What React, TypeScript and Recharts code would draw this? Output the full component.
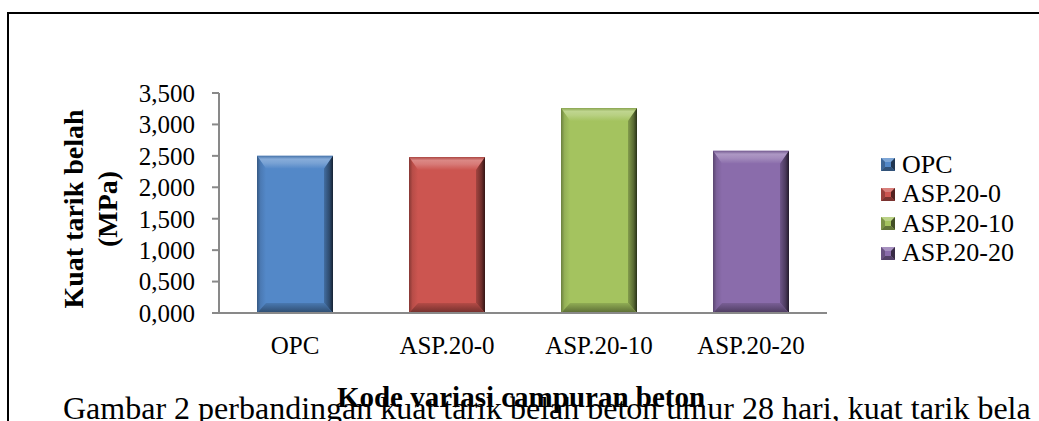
import React from 'react';
import { BarChart, Bar, XAxis, YAxis, Legend, Label } from 'recharts';

const categories = ['OPC', 'ASP.20-0', 'ASP.20-10', 'ASP.20-20'];
const values = [2.5, 2.48, 3.26, 2.58];
const yTicks = [0, 0.5, 1, 1.5, 2, 2.5, 3, 3.5];
const seriesColors = ['#5388C8', '#CC5550', '#A4C35F', '#8A6CAB'];
const yTitle = ['Kuat tarik belah', '(MPa)'];
const xTitle = 'Kode variasi campuran beton';
const caption = 'Gambar 2 perbandingan kuat tarik belah beton umur 28 hari, kuat tarik bela';

const data = categories.map((name, i) => ({ name, value: values[i] }));

const FONT = 'Liberation Serif, serif';

function hexToRgb(h: string) {
  const n = parseInt(h.slice(1), 16);
  return [(n >> 16) & 255, (n >> 8) & 255, n & 255];
}
function mix(h: string, target: string, t: number) {
  const a = hexToRgb(h);
  const b = hexToRgb(target);
  const c = a.map((v, i) => Math.round(v + (b[i] - v) * t));
  return `rgb(${c[0]},${c[1]},${c[2]})`;
}
const lighten = (h: string, t: number) => mix(h, '#ffffff', t);
const darken = (h: string, t: number) => mix(h, '#000000', t);

const fmt = (v: number) => v.toFixed(3).replace('.', ',');

const BevelBar = (props: any) => {
  const { x, y, width, height, index } = props;
  if (!height || height <= 0) return null;
  const c = seriesColors[index % seriesColors.length];
  const id = `bv${index}`;
  const t = 13;
  const s = 9;
  const b = 10;
  const x2 = x + width;
  const y2 = y + height;
  return (
    <g>
      <defs>
        <linearGradient id={`${id}t`} x1="0" y1="0" x2="0" y2="1">
          <stop offset="0" stopColor={darken(c, 0.15)} />
          <stop offset="0.25" stopColor={lighten(c, 0.3)} />
          <stop offset="0.55" stopColor={lighten(c, 0.22)} />
          <stop offset="1" stopColor={c} />
        </linearGradient>
        <linearGradient id={`${id}r`} x1="0" y1="0" x2="1" y2="0">
          <stop offset="0" stopColor={darken(c, 0.2)} />
          <stop offset="0.6" stopColor={darken(c, 0.45)} />
          <stop offset="1" stopColor={darken(c, 0.75)} />
        </linearGradient>
        <linearGradient id={`${id}b`} x1="0" y1="0" x2="0" y2="1">
          <stop offset="0" stopColor={darken(c, 0.12)} />
          <stop offset="1" stopColor={darken(c, 0.45)} />
        </linearGradient>
        <linearGradient id={`${id}l`} x1="0" y1="0" x2="1" y2="0">
          <stop offset="0" stopColor={darken(c, 0.35)} />
          <stop offset="0.4" stopColor={darken(c, 0.1)} />
          <stop offset="1" stopColor={c} />
        </linearGradient>
      </defs>
      <rect x={x} y={y} width={width} height={height} fill={c} />
      <polygon points={`${x},${y} ${x2},${y} ${x2 - s},${y + t} ${x + s},${y + t}`} fill={`url(#${id}t)`} />
      <polygon points={`${x},${y} ${x + s},${y + t} ${x + s},${y2 - b} ${x},${y2}`} fill={`url(#${id}l)`} />
      <polygon points={`${x2},${y} ${x2},${y2} ${x2 - s},${y2 - b} ${x2 - s},${y + t}`} fill={`url(#${id}r)`} />
      <polygon points={`${x},${y2} ${x + s},${y2 - b} ${x2 - s},${y2 - b} ${x2},${y2}`} fill={`url(#${id}b)`} />
    </g>
  );
};

const LegendIcon = ({ color }: { color: string }) => (
  <svg width={14} height={13} style={{ display: 'block' }}>
    <rect x={0} y={0} width={14} height={13} fill={color} />
    <polygon points="0,0 14,0 10,4 4,4" fill={lighten(color, 0.25)} />
    <polygon points="0,0 4,4 4,9 0,13" fill={darken(color, 0.25)} />
    <polygon points="14,0 14,13 10,9 10,4" fill={darken(color, 0.6)} />
    <polygon points="0,13 4,9 10,9 14,13" fill={darken(color, 0.4)} />
  </svg>
);

const renderLegend = () => (
  <div style={{ fontFamily: FONT, fontSize: 26, color: '#000' }}>
    {categories.map((name, i) => (
      <div key={name} style={{ display: 'flex', alignItems: 'center', height: 29.5, whiteSpace: 'nowrap' }}>
        <LegendIcon color={seriesColors[i]} />
        <span style={{ marginLeft: 7 }}>{name}</span>
      </div>
    ))}
  </div>
);

const YTitle = (props: any) => {
  const vb = props.viewBox || { x: 10, y: 93, width: 209, height: 220 };
  const cy = vb.y + vb.height / 2 + 6;
  const x1 = vb.x + 73;
  const x2 = vb.x + 107;
  return (
    <g>
      <text x={x1} y={cy} transform={`rotate(-90 ${x1} ${cy})`} textAnchor="middle" fontFamily={FONT} fontWeight="bold" fontSize={28} fill="#000">
        {yTitle[0]}
      </text>
      <text x={x2} y={cy} transform={`rotate(-90 ${x2} ${cy})`} textAnchor="middle" fontFamily={FONT} fontWeight="bold" fontSize={28} fill="#000">
        {yTitle[1]}
      </text>
    </g>
  );
};

const XTitle = (props: any) => {
  const vb = props.viewBox || { x: 219, y: 313, width: 608, height: 30 };
  const cx = vb.x + vb.width / 2 - 2;
  const y = vb.y + 94;
  return (
    <text x={cx} y={y} textAnchor="middle" fontFamily={FONT} fontWeight="bold" fontSize={29} fill="#000">
      {xTitle}
    </text>
  );
};

export default function App() {
  return (
    <div style={{ position: 'absolute', left: 0, top: 0, width: 1039, height: 421, overflow: 'hidden', background: '#fff' }}>
      <BarChart
        width={1039}
        height={421}
        data={data}
        margin={{ top: 93, right: 212, bottom: 78, left: 10 }}
        barCategoryGap="25%"
      >
        <XAxis
          dataKey="name"
          height={30}
          interval={0}
          axisLine={{ stroke: '#898989', strokeWidth: 2 }}
          tickLine={false}
          tickSize={0}
          tickMargin={23}
          tick={{ fill: '#000', fontSize: 25, fontFamily: FONT }}
        >
          <Label content={XTitle} />
        </XAxis>
        <YAxis
          width={209}
          domain={[0, 3.5]}
          ticks={yTicks}
          interval={0}
          tickFormatter={fmt}
          axisLine={{ stroke: '#898989', strokeWidth: 2 }}
          tickLine={{ stroke: '#898989', strokeWidth: 2 }}
          tickSize={7}
          tickMargin={17}
          tick={{ fill: '#000', fontSize: 25, fontFamily: FONT }}
        >
          <Label content={YTitle} />
        </YAxis>
        <Legend
          layout="vertical"
          align="center"
          verticalAlign="middle"
          content={renderLegend}
          wrapperStyle={{ left: 881, top: 150, width: 160, height: 120 }}
        />
        <Bar dataKey="value" shape={BevelBar} isAnimationActive={false} />
      </BarChart>
      <div
        style={{
          position: 'absolute',
          left: 7,
          top: 12,
          width: 1100,
          height: 500,
          borderTop: '2px solid #000',
          borderLeft: '2px solid #000',
          pointerEvents: 'none',
        }}
      />
      <svg width={1039} height={421} style={{ position: 'absolute', left: 0, top: 0, pointerEvents: 'none' }}>
        <text x={63} y={419} fontFamily={FONT} fontSize={32} fill="#000">
          {caption}
        </text>
      </svg>
    </div>
  );
}
